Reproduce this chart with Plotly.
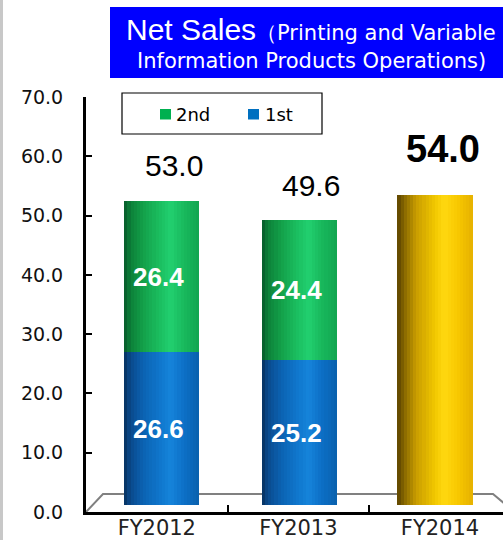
import plotly.graph_objects as go

# ---- data -------------------------------------------------------------
categories = ["FY2012", "FY2013", "FY2014"]
first_half = [26.6, 25.2, None]      # 1st half results
second_half = [26.4, 24.4, None]     # 2nd half results
full_year_plan = [None, None, 54.0]  # full-year forecast
y_ticks = [0, 10, 20, 30, 40, 50, 60, 70]

totals = [
    round(a + b, 1) if a is not None else p
    for a, b, p in zip(first_half, second_half, full_year_plan)
]

# ---- styling ----------------------------------------------------------
W, H = 503, 540
PLOT_L, PLOT_R, PLOT_T, PLOT_B = 86, 503, 97, 512
BAR_W = 0.53
N_STRIPS = 24
BAR_SHIFT_PX = [5, 1, -5]            # slight perspective pull toward centre
CAT_PX = 141.6

ARIAL = "Liberation Sans, Arial, sans-serif"
WIDE = "DejaVu Sans, sans-serif"

BLUE_STOPS = [(0.0, "#062f5c"), (0.08, "#0a4a8c"), (0.25, "#0b62b2"),
              (0.5, "#1079cf"), (0.62, "#1684db"), (0.8, "#0c6fc6"), (1.0, "#0a60ac")]
GREEN_STOPS = [(0.0, "#07582a"), (0.08, "#0c8039"), (0.25, "#13a049"),
               (0.5, "#1cc263"), (0.62, "#22d070"), (0.8, "#18b85c"), (1.0, "#12a550")]
GOLD_STOPS = [(0.0, "#5c4400"), (0.1, "#8c6c00"), (0.25, "#c89c00"),
              (0.5, "#f2c800"), (0.62, "#ffd810"), (0.8, "#f8c800"), (1.0, "#e6b200")]


def px_x(p):
    return (p - PLOT_L) / (PLOT_R - PLOT_L)


def px_y(p):
    return (PLOT_B - p) / (PLOT_B - PLOT_T)


def hex_rgb(h):
    h = h.lstrip("#")
    return tuple(int(h[i:i + 2], 16) for i in (0, 2, 4))


def shade(stops, t):
    for (t0, c0), (t1, c1) in zip(stops, stops[1:]):
        if t0 <= t <= t1:
            f = (t - t0) / (t1 - t0)
            a, b = hex_rgb(c0), hex_rgb(c1)
            r = [round(a[i] + (b[i] - a[i]) * f) for i in range(3)]
            return "rgb({},{},{})".format(*r)
    return stops[-1][1]


def cylinder(values, bases, stops):
    """Vertical strips of graded colour so each bar reads as a cylinder."""
    sw = BAR_W / N_STRIPS
    traces = []
    for i in range(N_STRIPS):
        t = (i + 0.5) / N_STRIPS
        width = sw * 1.6 if i < N_STRIPS - 1 else sw
        offsets = [s / CAT_PX - BAR_W / 2 + i * sw for s in BAR_SHIFT_PX]
        traces.append(go.Bar(
            x=categories, y=values, base=bases,
            width=width, offset=offsets,
            marker=dict(color=shade(stops, t), line=dict(width=0)),
            yaxis="y2", showlegend=False, hoverinfo="skip",
        ))
    return traces


fig = go.Figure()
# empty trace so the visible value axis gets its own subplot
fig.add_trace(go.Scatter(x=categories, y=[None] * len(categories),
                         mode="markers", showlegend=False, hoverinfo="skip"))
for tr in cylinder(first_half, [0, 0, 0], BLUE_STOPS):
    fig.add_trace(tr)
for tr in cylinder(second_half, first_half, GREEN_STOPS):
    fig.add_trace(tr)
for tr in cylinder(full_year_plan, [0, 0, 0], GOLD_STOPS):
    fig.add_trace(tr)

annotations = []

# segment values inside the cylinders
for k, cat in enumerate(categories):
    for val, base in ((first_half[k], 0), (second_half[k], first_half[k])):
        if val is None:
            continue
        annotations.append(dict(
            x=cat, y=base + val / 2, xref="x", yref="y2",
            text=f"{val:.1f}", showarrow=False,
            xshift=BAR_SHIFT_PX[k] - 3, yshift=0,
            font=dict(family=ARIAL, size=26, color="white", weight="bold"),
        ))

# totals above the cylinders
for k, cat in enumerate(categories):
    is_plan = full_year_plan[k] is not None
    annotations.append(dict(
        x=cat, y=totals[k], xref="x", yref="y2",
        text=f"{totals[k]:.1f}", showarrow=False,
        xshift=BAR_SHIFT_PX[k] + (8 if is_plan else 12),
        yshift=46 if is_plan else 35,
        font=dict(family=ARIAL, size=38 if is_plan else 30, color="black",
                  weight="bold" if is_plan else "normal"),
    ))

# title block
annotations.append(dict(
    x=px_x(311), y=px_y(29), xref="paper", yref="paper",
    xanchor="center", yanchor="middle", showarrow=False,
    text=("Net Sales<span style='font-family:DejaVu Sans;font-size:21px'>"
          "（Printing and Variable</span>"),
    font=dict(family=ARIAL, size=30, color="white"),
))
annotations.append(dict(
    x=px_x(311), y=px_y(61), xref="paper", yref="paper",
    xanchor="center", yanchor="middle", showarrow=False,
    text="Information Products Operations)",
    font=dict(family=WIDE, size=21, color="white"),
))

# legend labels
for label, left in (("2nd", 174), ("1st", 263)):
    annotations.append(dict(
        x=px_x(left), y=px_y(114), xref="paper", yref="paper",
        xanchor="left", yanchor="middle", showarrow=False,
        text=label, font=dict(family=WIDE, size=18, color="black"),
    ))

shapes = [
    # left page rule
    dict(type="rect", xref="paper", yref="paper",
         x0=px_x(0), x1=px_x(3), y0=px_y(540), y1=px_y(0),
         fillcolor="#c8c8c8", line=dict(width=0), layer="below"),
    # title box
    dict(type="rect", xref="paper", yref="paper",
         x0=px_x(110), x1=px_x(503), y0=px_y(78), y1=px_y(7),
         fillcolor="#0000ff", line=dict(width=0), layer="below"),
    # floor of the 3-D plot
    dict(type="path", xref="paper", yref="paper",
         path=(f"M {px_x(86)},{px_y(512)} L {px_x(103)},{px_y(494)} "
               f"L {px_x(493)},{px_y(494)} L {px_x(505)},{px_y(504)}"),
         line=dict(color="#808080", width=2), layer="below"),
    # legend frame
    dict(type="rect", xref="paper", yref="paper",
         x0=px_x(122), x1=px_x(322), y0=px_y(134), y1=px_y(93),
         fillcolor="white", line=dict(color="black", width=1.2), layer="above"),
    # legend keys
    dict(type="rect", xref="paper", yref="paper",
         x0=px_x(160), x1=px_x(171), y0=px_y(119.5), y1=px_y(109),
         fillcolor="#00b050", line=dict(width=0), layer="above"),
    dict(type="rect", xref="paper", yref="paper",
         x0=px_x(248), x1=px_x(259), y0=px_y(119.5), y1=px_y(109),
         fillcolor="#0070c0", line=dict(width=0), layer="above"),
]

fig.update_layout(
    width=W, height=H,
    margin=dict(l=PLOT_L, r=W - PLOT_R, t=PLOT_T, b=H - PLOT_B, pad=0,
                autoexpand=False),
    paper_bgcolor="white", plot_bgcolor="rgba(0,0,0,0)",
    barmode="overlay", bargap=0,
    showlegend=False,
    annotations=annotations, shapes=shapes,
    xaxis=dict(
        type="category", range=[-0.5, -0.5 + (PLOT_R - PLOT_L) / CAT_PX],
        automargin=False,
        showline=True, linecolor="black", linewidth=3,
        ticks="inside", tickson="boundaries", ticklen=7, tickwidth=2,
        tickcolor="black", showgrid=False, zeroline=False,
        tickfont=dict(family=WIDE, size=21, color="#222222"),
        ticklabelstandoff=-5,
    ),
    yaxis=dict(
        range=[0, 70], tickvals=y_ticks, tickformat=".1f",
        automargin=False,
        showline=True, linecolor="black", linewidth=3,
        ticks="inside", ticklen=6, tickwidth=2, tickcolor="black",
        showgrid=False, zeroline=False,
        tickfont=dict(family=WIDE, size=19, color="#111111"),
        ticklabelstandoff=16,
    ),
    yaxis2=dict(
        overlaying="y", range=[-7 / 5.74, (505 - PLOT_T) / 5.74],
        visible=False, showgrid=False, zeroline=False, automargin=False,
    ),
)

fig.write_html("out.html")
